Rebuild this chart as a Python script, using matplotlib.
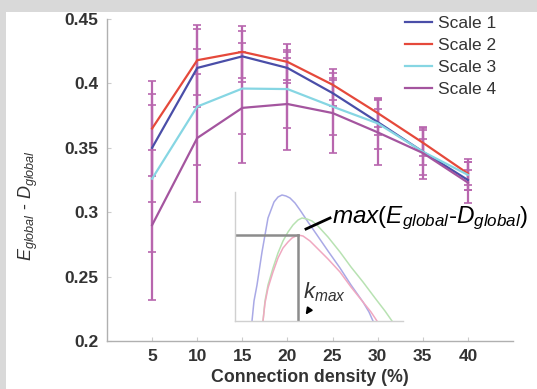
import matplotlib
matplotlib.use("Agg")
import matplotlib.pyplot as plt
from matplotlib.patches import Rectangle

plt.rcParams['font.family'] = ['Liberation Sans', 'DejaVu Sans']
plt.rcParams['mathtext.fontset'] = 'custom'
plt.rcParams['mathtext.it'] = 'Liberation Sans:italic'
plt.rcParams['mathtext.rm'] = 'Liberation Sans'

# ---- data ----
density = [5, 10, 15, 20, 25, 30, 35, 40]
scale1 = [0.350, 0.412, 0.421, 0.412, 0.3925, 0.370, 0.347, 0.325]
scale2 = [0.365, 0.418, 0.4245, 0.4167, 0.399, 0.377, 0.354, 0.330]
scale3 = [0.326, 0.382, 0.396, 0.3956, 0.382, 0.369, 0.347, 0.329]
scale4 = [0.290, 0.3576, 0.381, 0.384, 0.377, 0.362, 0.346, 0.323]
err1 = [0.042, 0.030, 0.020, 0.012, 0.010, 0.010, 0.010, 0.008]
err2 = [0.037, 0.027, 0.020, 0.014, 0.012, 0.011, 0.010, 0.009]
err3 = [0.057, 0.045, 0.035, 0.030, 0.022, 0.020, 0.018, 0.012]
err4 = [0.058, 0.050, 0.043, 0.036, 0.031, 0.025, 0.020, 0.016]
series_names = ['Scale 1', 'Scale 2', 'Scale 3', 'Scale 4']
xticks = [5, 10, 15, 20, 25, 30, 35, 40]
yticks = [0.2, 0.25, 0.3, 0.35, 0.4, 0.45]
ytick_labels = ['0.2', '0.25', '0.3', '0.35', '0.4', '0.45']

# inset schematic curves (inset units)
inset_blue_x = [17, 19, 22, 27, 33, 39, 43, 47, 51, 55, 60, 65, 73, 82, 93, 105, 116, 128, 134, 138]
inset_blue_y = [0, 20, 36, 69, 103, 119, 124, 126, 125, 123, 118, 111, 99, 86, 70, 53, 36, 19, 9, 0]
inset_green_x = [28, 30, 33, 38, 43, 48, 53, 58, 63, 67, 72, 77, 82, 93, 105, 116, 128, 140, 150, 157]
inset_green_y = [0, 20, 36, 53, 68, 80, 89, 96, 101, 103, 102, 100, 96, 84, 69, 54, 39, 23, 10, 0]
inset_pink_x = [28, 30, 33, 38, 43, 48, 53, 57, 63, 68, 75, 82, 93, 105, 116, 128, 136, 142]
inset_pink_y = [0, 18, 33, 49, 63, 73, 79, 83, 86, 85, 80, 73, 62, 49, 34, 19, 9, 0]
inset_kmax = 63
inset_maxval = 86

colors = ['#4a4ea8', '#e5493b', '#86d6e3', '#a4559f']
err_color = '#b866ae'

fig = plt.figure(figsize=(5.37, 3.89), dpi=100)
fig.patch.set_facecolor('white')
fig.add_artist(Rectangle((0, (389-12)/389), 1, 12/389, transform=fig.transFigure,
                         facecolor='#d9d9d9', edgecolor='none', zorder=0))
fig.add_artist(Rectangle((0, 0), 6/537, 1, transform=fig.transFigure,
                         facecolor='#d9d9d9', edgecolor='none', zorder=0))

ax = fig.add_axes([107/537, 48/389, (513-107)/537, (341-19)/389])
ax.set_facecolor('none')
all_vals = [scale1, scale2, scale3, scale4]
all_err = [err1, err2, err3, err4]
for vals, errs in zip(all_vals, all_err):
    ax.errorbar(density, vals, yerr=errs, color=err_color, lw=0, elinewidth=1.6,
                capsize=3, capthick=1.2, zorder=2)
for vals, c, name in zip(all_vals, colors, series_names):
    ax.plot(density, vals, color=c, lw=1.6, label=name, zorder=3)

ax.set_xlim(0, 45)
ax.set_ylim(0.2, 0.45)
ax.set_xticks(xticks)
ax.set_yticks(yticks)
ax.set_yticklabels(ytick_labels)
for s in ['top', 'right']:
    ax.spines[s].set_visible(False)
for s in ['left', 'bottom']:
    ax.spines[s].set_color('#b0b0b0')
    ax.spines[s].set_linewidth(1.0)
ax.tick_params(direction='in', length=3, color='#cccccc', labelsize=12.5,
               labelcolor='#333333', pad=6)
for lab in ax.get_xticklabels() + ax.get_yticklabels():
    lab.set_fontweight('bold')
ax.set_xlabel('Connection density (%)', fontsize=12.8, fontweight='bold',
              color='#333333', labelpad=3)
ax.set_ylabel(r'$E_{global}$ - $D_{global}$', fontsize=13, color='#333333')
ax.yaxis.set_label_coords(-0.165, 0.42)

leg = ax.legend(loc='upper left', bbox_to_anchor=(405/537, (389-16)/389),
                bbox_transform=fig.transFigure, frameon=False,
                fontsize=12.5, handlelength=1.55, handletextpad=0.35,
                labelspacing=0.4, borderpad=0, borderaxespad=0)
for t in leg.get_texts():
    t.set_color('#333333')

# inset schematic
axi = fig.add_axes([235/537, 68/389, (403-235)/537, (321-192)/389])
axi.set_facecolor('none')
axi.plot(inset_blue_x, inset_blue_y, color='#a9a9e6', lw=1.1)
axi.plot(inset_green_x, inset_green_y, color='#b8e2b2', lw=1.1)
axi.plot(inset_pink_x, inset_pink_y, color='#f0a8c0', lw=1.1)
axi.plot([0, inset_kmax], [inset_maxval, inset_maxval], color='#8c8c8c', lw=1.8)
axi.plot([inset_kmax, inset_kmax], [0, inset_maxval], color='#8c8c8c', lw=1.8)
axi.set_xlim(0, 168)
axi.set_ylim(0, 129)
axi.set_xticks([])
axi.set_yticks([])
for s in ['top', 'right']:
    axi.spines[s].set_visible(False)
for s in ['left', 'bottom']:
    axi.spines[s].set_color('#d0d0d0')
    axi.spines[s].set_linewidth(1.0)
axi.plot([95, 71], [103, 92], color='black', lw=2, clip_on=False)
axi.text(97, 103, r'$max(E_{global}$-$D_{global})$', fontsize=17.5,
         va='center', ha='left', clip_on=False)
axi.text(68, 29, r'$k_{max}$', fontsize=16, va='center', ha='left', color='#333333')
axi.annotate('', xy=(69, 4), xytext=(76, 14),
             arrowprops=dict(arrowstyle='-|>', color='black', lw=1.4,
                             mutation_scale=9))

fig.savefig('out.png', dpi=100)
